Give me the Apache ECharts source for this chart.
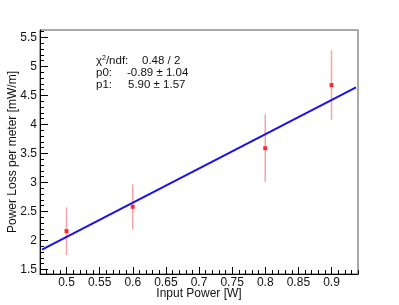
<!DOCTYPE html>
<html><head><meta charset="utf-8">
<script src="https://cdn.jsdelivr.net/npm/echarts@6/dist/echarts.min.js"></script>
<style>html,body{margin:0;padding:0;background:#fff}#c{width:399px;height:305px}</style>
</head><body><div id="c"></div>
<script>
// Data
var pointX = [0.5, 0.6, 0.8, 0.9];
var pointY = [2.16, 2.58, 3.59, 4.68];
var pointErr = [0.41, 0.39, 0.58, 0.60];
var fitX = [0.463, 0.937];
var fitY = [1.84, 4.64];
var xMajorTicks = [0.5, 0.55, 0.6, 0.65, 0.7, 0.75, 0.8, 0.85, 0.9];
var xMinorTicks = [0.46,0.47,0.48,0.49,0.51,0.52,0.53,0.54,0.56,0.57,0.58,0.59,0.61,0.62,0.63,0.64,0.66,0.67,0.68,0.69,0.71,0.72,0.73,0.74,0.76,0.77,0.78,0.79,0.81,0.82,0.83,0.84,0.86,0.87,0.88,0.89,0.91,0.92,0.93,0.94];
var yMajorTicks = [1.5, 2, 2.5, 3, 3.5, 4, 4.5, 5, 5.5];
var yMinorTicks = [1.6,1.7,1.8,1.9,2.1,2.2,2.3,2.4,2.6,2.7,2.8,2.9,3.1,3.2,3.3,3.4,3.6,3.7,3.8,3.9,4.1,4.2,4.3,4.4,4.6,4.7,4.8,4.9,5.1,5.2,5.3,5.4,5.6];
var statLabels = ['{t|χ}{s|2}{t|/ndf:}', 'p0:', 'p1:'];
var statValues = ['0.48 / 2', '-0.89 ± 1.04', '5.90 ± 1.57'];

var FONT = '"Liberation Sans", Arial, sans-serif';
var XMIN = 0.46, XMAX = 0.94, YMIN = 1.42, YMAX = 5.63;

var chart = echarts.init(document.getElementById('c'), null, {renderer: 'canvas'});
var fmt = function (v) { return String(Math.round(v * 100) / 100); };

var option = {
  animation: false,
  grid: {left: 40, right: 41, top: 30, bottom: 31, show: true, borderColor: '#555', borderWidth: 1, backgroundColor: '#fff', containLabel: false, outerBoundsMode: 'none'},
  xAxis: [
    {type: 'value', min: XMIN, max: XMAX, position: 'bottom',
     name: 'Input Power [W]', nameLocation: 'middle', nameGap: 14, nameMoveOverlap: false,
     nameTextStyle: {fontFamily: FONT, fontSize: 12, color: '#111'},
     axisLine: {show: true, onZero: false, lineStyle: {color: '#000', width: 1}},
     axisTick: {show: true, inside: true, length: 7, customValues: xMajorTicks, lineStyle: {color: '#000'}},
     axisLabel: {show: true, customValues: xMajorTicks, formatter: fmt, margin: 3, fontFamily: FONT, fontSize: 12, color: '#111'},
     splitLine: {show: false}},
    {type: 'value', min: XMIN, max: XMAX, position: 'bottom',
     axisLine: {show: false},
     axisTick: {show: true, inside: true, length: 4, customValues: xMinorTicks, lineStyle: {color: '#000'}},
     axisLabel: {show: false}, splitLine: {show: false}}
  ],
  yAxis: [
    {type: 'value', min: YMIN, max: YMAX, position: 'left',
     name: 'Power Loss per meter [mW/m]', nameLocation: 'middle', nameGap: 21, nameRotate: 90, nameMoveOverlap: false,
     nameTextStyle: {fontFamily: FONT, fontSize: 12, color: '#111'},
     axisLine: {show: true, onZero: false, lineStyle: {color: '#000', width: 1}},
     axisTick: {show: true, inside: true, length: 8, customValues: yMajorTicks, lineStyle: {color: '#000'}},
     axisLabel: {show: true, customValues: yMajorTicks, formatter: fmt, margin: 3, fontFamily: FONT, fontSize: 12, color: '#111'},
     splitLine: {show: false}},
    {type: 'value', min: YMIN, max: YMAX, position: 'left',
     axisLine: {show: false},
     axisTick: {show: true, inside: true, length: 4, customValues: yMinorTicks, lineStyle: {color: '#000'}},
     axisLabel: {show: false}, splitLine: {show: false}},
    {type: 'value', min: YMIN, max: YMAX, position: 'right',
     axisLine: {show: true, onZero: false, lineStyle: {color: '#aaa', width: 2}},
     axisTick: {show: false}, axisLabel: {show: false}, splitLine: {show: false}}
  ],
  series: [
    {type: 'custom', xAxisIndex: 0, yAxisIndex: 0, z: 2,
     data: pointX.map(function (x, i) { return [x, pointY[i], pointErr[i]]; }),
     renderItem: function (params, api) {
       var x = api.value(0), y = api.value(1), e = api.value(2);
       var p1 = api.coord([x, y + e]), p2 = api.coord([x, y - e]);
       return {type: 'line', shape: {x1: p1[0], y1: p1[1], x2: p2[0], y2: p2[1]},
               style: {stroke: 'rgba(235,90,90,0.55)', lineWidth: 1.5}};
     }},
    {type: 'line', xAxisIndex: 0, yAxisIndex: 0, z: 3, symbol: 'none',
     data: fitX.map(function (x, i) { return [x, fitY[i]]; }),
     lineStyle: {color: '#1a10e8', width: 2}},
    {type: 'scatter', xAxisIndex: 0, yAxisIndex: 0, z: 4, symbol: 'rect', symbolSize: 4,
     data: pointX.map(function (x, i) { return [x, pointY[i]]; }),
     itemStyle: {color: '#ff0000'}}
  ],
  graphic: []
};

var rowY = [62, 74, 86];
var valX = [142, 127, 128];
var rich = {t: {fontFamily: FONT, fontSize: 11.5, color: '#111'}, s: {fontFamily: FONT, fontSize: 7, color: '#111', verticalAlign: 'top', padding: [0, 0, 5, 0]}};
statLabels.forEach(function (s, i) {
  option.graphic.push({type: 'text', left: 96, top: rowY[i] - 7, z: 10,
    style: {text: s, rich: rich, font: '11.5px ' + FONT, fill: '#111'}});
  option.graphic.push({type: 'text', left: valX[i], top: rowY[i] - 7, z: 10,
    style: {text: statValues[i], font: '11.5px ' + FONT, fill: '#111'}});
});

chart.setOption(option);
</script></body></html>
